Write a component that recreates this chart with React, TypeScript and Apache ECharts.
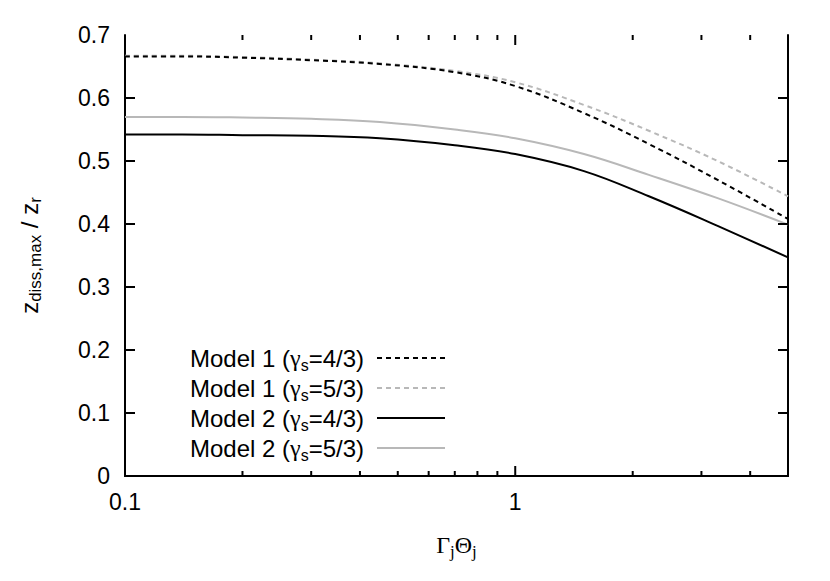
import React, { useEffect, useRef } from "react";
import * as echarts from "echarts";

// Γj Θj values (x axis, log scale)
const xValues = [0.1, 0.14, 0.2, 0.3, 0.45, 0.7, 1.0, 1.5, 2.2, 3.3, 5.0];

// z_diss,max / z_r
const model1Gamma43 = [0.666, 0.666, 0.664, 0.660, 0.654, 0.641, 0.619, 0.576, 0.527, 0.470, 0.408];
const model1Gamma53 = [0.667, 0.667, 0.665, 0.661, 0.655, 0.643, 0.625, 0.589, 0.548, 0.500, 0.444];
const model2Gamma43 = [0.542, 0.542, 0.541, 0.540, 0.536, 0.525, 0.511, 0.484, 0.444, 0.397, 0.347];
const model2Gamma53 = [0.570, 0.570, 0.569, 0.567, 0.562, 0.550, 0.536, 0.511, 0.478, 0.441, 0.399];

const seriesNames = [
  "Model 1 (γs=4/3)",
  "Model 1 (γs=5/3)",
  "Model 2 (γs=4/3)",
  "Model 2 (γs=5/3)",
];
const legendModel = ["Model 1", "Model 1", "Model 2", "Model 2"];
const legendGamma = ["4/3", "5/3", "4/3", "5/3"];

const xMin = 0.1;
const xMax = 5;
const yMin = 0;
const yMax = 0.7;
const yInterval = 0.1;
const xLabelValues = [0.1, 1];
const xMajorTicks = [0.1, 1];
const xMinorTicks = [0.2, 0.3, 0.4, 0.5, 0.6, 0.7, 0.8, 0.9, 2, 3, 4];
const yTicks = [0.1, 0.2, 0.3, 0.4, 0.5, 0.6];

const SANS = "'Liberation Sans', Arial, Helvetica, sans-serif";
const SERIF = "'Liberation Serif', 'Times New Roman', serif";

export default function App() {
  const ref = useRef<HTMLDivElement>(null);

  useEffect(() => {
    if (!ref.current) return;
    const chart = echarts.init(ref.current, undefined, { renderer: "svg" });

    const pair = (ys: number[]) => xValues.map((x, i) => [x, ys[i]]);
    const gray = "#b8b8b8";
    const black = "#000000";

    const tickData: number[][] = [];
    xMajorTicks.forEach((v) => tickData.push([v, yMin, 10, 0]));
    xMinorTicks.forEach((v) => tickData.push([v, yMin, 5, 0]));
    yTicks.forEach((v) => tickData.push([xMin, v, 10, 1]));

    const legendRich = {
      t: { fontSize: 24, lineHeight: 30, fontFamily: SANS, color: "#000" },
      g: { fontSize: 24, lineHeight: 30, fontFamily: SERIF, color: "#000" },
      s: { fontSize: 16, lineHeight: 16, fontFamily: SANS, color: "#000", verticalAlign: "bottom" },
      e: { fontSize: 24, lineHeight: 30, fontFamily: SANS, color: "#000", padding: [0, 8, 0, 0] },
    };

    const option: any = {
      animation: false,
      backgroundColor: "#ffffff",
      grid: { left: 125, right: 42, top: 35, bottom: 105, outerBoundsMode: "none" },
      legend: {
        show: true,
        orient: "vertical",
        align: "right",
        right: 384,
        top: 346,
        padding: 0,
        itemWidth: 68,
        itemHeight: 14,
        itemGap: 3,
        selectedMode: false,
        itemStyle: { opacity: 0 },
        data: seriesNames,
        formatter: (name: string) => {
          const i = seriesNames.indexOf(name);
          return `{t|${legendModel[i]} (}{g|γ}{s|s}{e|=${legendGamma[i]})}`;
        },
        textStyle: { fontSize: 24, fontFamily: SANS, color: "#000", rich: legendRich },
      },
      xAxis: [
        {
          type: "log",
          logBase: 10,
          min: xMin,
          max: xMax,
          position: "bottom",
          name: "{g|Γ}{s|j}{g|Θ}{s|j}",
          nameLocation: "middle",
          nameGap: 54,
          nameTextStyle: {
            rich: {
              g: { fontSize: 24, lineHeight: 30, fontFamily: SERIF, color: "#000" },
              s: { fontSize: 17, lineHeight: 17, fontFamily: SERIF, color: "#000", verticalAlign: "bottom" },
            },
          },
          axisLine: { show: true, lineStyle: { color: "#000", width: 2 } },
          axisTick: { show: false },
          splitLine: { show: false },
          minorTick: { show: false },
          axisLabel: {
            show: true,
            margin: 14,
            fontSize: 23,
            fontFamily: SANS,
            color: "#000",
            showMaxLabel: false,
            formatter: (v: number) => {
              const r = Math.round(v * 1000) / 1000;
              return xLabelValues.includes(r) ? String(r) : "";
            },
          },
        },
        {
          type: "log",
          logBase: 10,
          min: xMin,
          max: xMax,
          position: "top",
          axisLine: { show: true, lineStyle: { color: "#000", width: 2 } },
          axisTick: { show: false },
          axisLabel: { show: false },
          splitLine: { show: false },
        },
      ],
      yAxis: [
        {
          type: "value",
          min: yMin,
          max: yMax,
          interval: yInterval,
          position: "left",
          name: "{m|z}{s|diss,max}{m| / z}{s|r}",
          nameLocation: "middle",
          nameGap: 81,
          nameTextStyle: {
            rich: {
              m: { fontSize: 24, lineHeight: 30, fontFamily: SANS, color: "#000" },
              s: { fontSize: 17, lineHeight: 17, fontFamily: SANS, color: "#000", verticalAlign: "bottom" },
            },
          },
          axisLine: { show: true, lineStyle: { color: "#000", width: 2 } },
          axisTick: { show: false },
          splitLine: { show: false },
          axisLabel: {
            margin: 15,
            fontSize: 23,
            fontFamily: SANS,
            color: "#000",
            formatter: (v: number) => (v === 0 ? "0" : v.toFixed(1)),
          },
        },
        {
          type: "value",
          min: yMin,
          max: yMax,
          interval: yInterval,
          position: "right",
          axisLine: { show: true, lineStyle: { color: "#000", width: 2 } },
          axisTick: { show: false },
          axisLabel: { show: false },
          splitLine: { show: false },
        },
      ],
      series: [
        {
          name: seriesNames[0],
          type: "line",
          data: pair(model1Gamma43),
          smooth: 0.4,
          symbol: "none",
          lineStyle: { color: black, width: 2, type: [5, 4] },
          itemStyle: { color: black },
          z: 4,
        },
        {
          name: seriesNames[1],
          type: "line",
          data: pair(model1Gamma53),
          smooth: 0.4,
          symbol: "none",
          lineStyle: { color: gray, width: 2, type: [5, 4] },
          itemStyle: { color: gray },
          z: 3,
        },
        {
          name: seriesNames[2],
          type: "line",
          data: pair(model2Gamma43),
          smooth: 0.4,
          symbol: "none",
          lineStyle: { color: black, width: 2 },
          itemStyle: { color: black },
          z: 4,
        },
        {
          name: seriesNames[3],
          type: "line",
          data: pair(model2Gamma53),
          smooth: 0.4,
          symbol: "none",
          lineStyle: { color: gray, width: 2 },
          itemStyle: { color: gray },
          z: 3,
        },
        {
          type: "custom",
          coordinateSystem: "cartesian2d",
          silent: true,
          z: 5,
          data: tickData,
          renderItem: (params: any, api: any) => {
            const x = api.value(0);
            const y = api.value(1);
            const len = api.value(2);
            const kind = api.value(3);
            const style = { stroke: "#000", lineWidth: 2 };
            if (kind === 0) {
              const b = api.coord([x, yMin]);
              const t = api.coord([x, yMax]);
              return {
                type: "group",
                children: [
                  { type: "line", shape: { x1: b[0], y1: b[1], x2: b[0], y2: b[1] - len }, style },
                  { type: "line", shape: { x1: t[0], y1: t[1], x2: t[0], y2: t[1] + len }, style },
                ],
              };
            }
            const l = api.coord([xMin, y]);
            const r = api.coord([xMax, y]);
            return {
              type: "group",
              children: [
                { type: "line", shape: { x1: l[0], y1: l[1], x2: l[0] + len, y2: l[1] }, style },
                { type: "line", shape: { x1: r[0], y1: r[1], x2: r[0] - len, y2: r[1] }, style },
              ],
            };
          },
        },
      ],
    };

    chart.setOption(option);
    return () => chart.dispose();
  }, []);

  return (
    <div
      ref={ref}
      style={{ position: "fixed", left: 0, top: 0, width: 830, height: 581, background: "#fff" }}
    />
  );
}
